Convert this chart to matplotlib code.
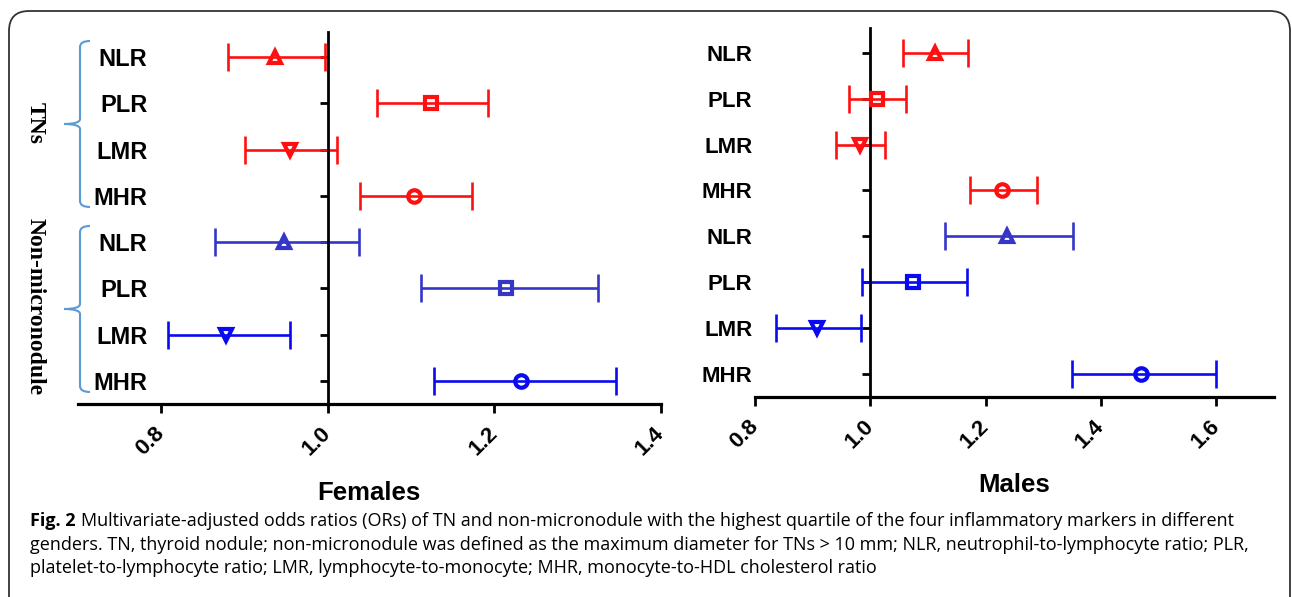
import matplotlib
matplotlib.use("Agg")
import matplotlib.pyplot as plt
from matplotlib.patches import FancyBboxPatch, PathPatch
from matplotlib.path import Path

# ---------------- data ----------------
rows = ['NLR', 'PLR', 'LMR', 'MHR', 'NLR', 'PLR', 'LMR', 'MHR']
groups = ['TNs', 'Non-micronodule']

female_or = [0.936, 1.124, 0.955, 1.103, 0.947, 1.214, 0.878, 1.232]
female_lo = [0.880, 1.059, 0.901, 1.038, 0.865, 1.112, 0.808, 1.127]
female_hi = [0.996, 1.192, 1.011, 1.173, 1.037, 1.324, 0.955, 1.346]

male_or = [1.113, 1.011, 0.982, 1.229, 1.237, 1.074, 0.908, 1.470]
male_lo = [1.057, 0.963, 0.941, 1.173, 1.130, 0.985, 0.837, 1.350]
male_hi = [1.170, 1.061, 1.026, 1.289, 1.351, 1.168, 0.984, 1.599]

female_ticks = [0.8, 1.0, 1.2, 1.4]
male_ticks = [0.8, 1.0, 1.2, 1.4, 1.6]

caption_bold = "Fig. 2"
caption_lines = [
    "Multivariate-adjusted odds ratios (ORs) of TN and non-micronodule with the highest quartile of the four inflammatory markers in different",
    "genders. TN, thyroid nodule; non-micronodule was defined as the maximum diameter for TNs > 10 mm; NLR, neutrophil-to-lymphocyte ratio; PLR,",
    "platelet-to-lymphocyte ratio; LMR, lymphocyte-to-monocyte; MHR, monocyte-to-HDL cholesterol ratio",
]

# ---------------- style ----------------
markers = ['^', 's', 'v', 'o'] * 2
RED = '#FF1010'
SLATE = '#3535C8'
BLUE = '#0A0AF0'
female_colors = [RED] * 4 + [SLATE, SLATE, BLUE, BLUE]
male_colors = [RED] * 4 + [SLATE, BLUE, BLUE, BLUE]

W, H = 1292, 597
fig = plt.figure(figsize=(W / 100, H / 100), dpi=100)

SANS = ['Liberation Sans', 'DejaVu Sans']
SERIF = ['Liberation Serif', 'DejaVu Serif']


def px_rect(x0, y0, x1, y1):
    return [x0 / W, 1 - y1 / H, (x1 - x0) / W, (y1 - y0) / H]


def forest(ax, ors, los, his, colors, ticks, xlim, ylim, label_pad, lab_size, tick_size):
    n = len(ors)
    for i in range(n):
        ax.errorbar(ors[i], i, xerr=[[ors[i] - los[i]], [his[i] - ors[i]]],
                    fmt='none', ecolor=colors[i], elinewidth=1.9, capsize=10,
                    capthick=1.9, zorder=2, clip_on=False)
        ax.plot(ors[i], i, marker=markers[i], ms=9, mew=3.0, mfc='none',
                mec=colors[i], ls='none', zorder=4, clip_on=False)
    ax.set_xlim(*xlim)
    ax.set_ylim(*ylim)
    for s in ['top', 'right']:
        ax.spines[s].set_visible(False)
    ax.spines['left'].set_position(('data', 1.0))
    ax.spines['left'].set_linewidth(2.0)
    ax.spines['bottom'].set_linewidth(2.3)
    ax.set_yticks(range(n))
    ax.set_yticklabels(rows, fontsize=lab_size, fontweight='bold', family=SANS)
    ax.tick_params(axis='y', direction='out', length=6, width=2.0, pad=label_pad)
    ax.set_xticks(ticks)
    ax.set_xticklabels([f'{t:.1f}' for t in ticks], fontsize=tick_size,
                       fontweight='bold', family=SANS, rotation=45,
                       ha='right', va='center', rotation_mode='anchor')
    ax.tick_params(axis='x', direction='out', length=6.5, width=2.0, pad=12)
    ax.patch.set_alpha(0)


axL = fig.add_axes(px_rect(78, 32, 661, 404))
forest(axL, female_or, female_lo, female_hi, female_colors, female_ticks,
       (0.7, 1.4), (7.5, -0.54), 124, 17, 16)

axR = fig.add_axes(px_rect(755, 28, 1274, 397))
forest(axR, male_or, male_lo, male_hi, male_colors, male_ticks,
       (0.8, 1.7), (7.5, -0.54), 79, 16, 16)

# ---------------- overlay (pixel coordinates) ----------------
ov = fig.add_axes([0, 0, 1, 1])
ov.set_xlim(0, W)
ov.set_ylim(H, 0)
ov.axis('off')
ov.patch.set_alpha(0)

border = FancyBboxPatch((9, 11), W - 9 - 2, H + 40, boxstyle='round,pad=0,rounding_size=20',
                        fc='none', ec='#333333', lw=1.3, clip_on=False)
ov.add_patch(border)


def brace(ax, x, y0, ym, y1, tip, hook, color):
    verts = [(x + hook, y0), (x, y0), (x, y0 + 6),
             (x, ym - 5),
             (x, ym), (tip, ym),
             (x, ym), (x, ym + 5),
             (x, y1 - 6),
             (x, y1), (x + hook, y1)]
    codes = [Path.MOVETO, Path.CURVE3, Path.CURVE3,
             Path.LINETO,
             Path.CURVE3, Path.CURVE3,
             Path.CURVE3, Path.CURVE3,
             Path.LINETO,
             Path.CURVE3, Path.CURVE3]
    ax.add_patch(PathPatch(Path(verts, codes), fc='none', ec=color, lw=1.5))


BRC = '#5B9BD5'
brace(ov, 80, 41, 124, 207, 64, 10, BRC)
brace(ov, 80, 226, 309, 392, 64, 10, BRC)

ov.text(35, 123, groups[0], rotation=270, ha='center', va='center',
        fontsize=17, fontweight='bold', family=SERIF)
ov.text(35, 307, groups[1], rotation=270, ha='center', va='center',
        fontsize=17, fontweight='bold', family=SERIF)

ov.text(369, 493, 'Females', ha='center', va='center', fontsize=18.5,
        fontweight='bold', family=SANS)
ov.text(1014, 485, 'Males', ha='center', va='center', fontsize=18.5,
        fontweight='bold', family=SANS)

CAP = ['Open Sans', 'DejaVu Sans']
cap_size = 13.0
x0 = 30
bases = [526, 550, 573]
tb = ov.text(x0, bases[0], caption_bold, ha='left', va='baseline', fontsize=cap_size,
             fontweight='bold', family=CAP)
fig.canvas.draw()
ext = tb.get_window_extent(renderer=fig.canvas.get_renderer())
ov.text(ext.x1 + 5, bases[0], caption_lines[0], ha='left', va='baseline',
        fontsize=cap_size, family=CAP)
for line, b in zip(caption_lines[1:], bases[1:]):
    ov.text(x0, b, line, ha='left', va='baseline', fontsize=cap_size, family=CAP)

fig.savefig('out.png', dpi=100)
